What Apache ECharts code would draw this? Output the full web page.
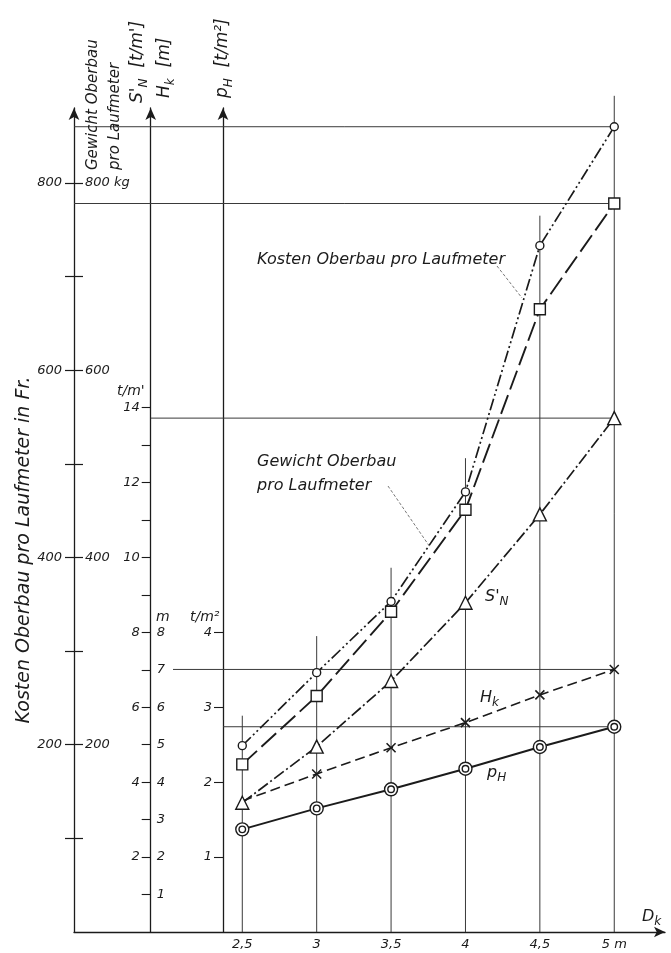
<!DOCTYPE html>
<html><head><meta charset="utf-8">
<script src="https://cdn.jsdelivr.net/npm/echarts@6/dist/echarts.min.js"></script>
<style>html,body{margin:0;padding:0;background:#fff}#c{width:671px;height:953px}</style>
</head><body><div id="c"></div>
<script>
// ---------- data ----------
const dk      = [2.5, 3, 3.5, 4, 4.5, 5];                 // D_k [m]
const kosten  = [199, 277, 353, 470, 733, 860];           // Kosten Oberbau pro Laufmeter [Fr.]
const gewicht = [179, 252, 342, 451, 665, 778];           // Gewicht Oberbau pro Laufmeter [kg]
const sN      = [3.45, 4.95, 6.70, 8.79, 11.15, 13.72];   // S'_N [t/m']
const hK      = [3.5, 4.22, 4.92, 5.59, 6.33, 7.01];      // H_k [m]
const pH      = [1.37, 1.65, 1.905, 2.18, 2.47, 2.74];    // p_H [t/m2]
const vLineTop = [231, 316, 389, 506, 765, 893];          // top of vertical guide lines (Fr scale)
const xTickValues = [2.5, 3, 3.5, 4, 4.5, 5];
const frTicks  = [100, 200, 300, 400, 500, 600, 700, 800];
const frLabels = [200, 400, 600, 800];
const tmTicks  = [1,2,3,4,5,6,7,8,9,10,11,12,13,14];
const tmLabels = [2,4,6,8,10,12,14];
const mLabels  = [1,2,3,4,5,6,7,8];
const t2Ticks  = [1,2,3,4];

// ---------- layout ----------
const X_MIN = 1.369, X_MAX = 5.341;
const G_LEFT = 74, G_RIGHT = 6, G_TOP = 108, G_BOTTOM = 21;
const W = 671;
const pxPerX = (W - G_LEFT - G_RIGHT) / (X_MAX - X_MIN);
const OFF2 = 76.7, OFF3 = 149;
const ax1X = X_MIN, ax2X = X_MIN + OFF2 / pxPerX, ax3X = X_MIN + OFF3 / pxPerX;
const hkStartX = X_MIN + 99 / pxPerX;

const INK = '#1b1b1b', THIN = '#3a3a3a';
const FONT = 'DejaVu Sans';
const lbl = (size) => ({ fontFamily: FONT, fontStyle: 'italic', fontSize: size, color: INK });

const chart = echarts.init(document.getElementById('c'), null, { renderer: 'canvas' });

function guide(points, yIdx) {
  return { type: 'line', data: points, yAxisIndex: yIdx, symbol: 'none', silent: true, clip: false,
    z: 1, lineStyle: { color: THIN, width: 1 }, animation: false };
}
const guides = [];
dk.forEach((x, i) => guides.push(guide([[x, 0], [x, vLineTop[i]]], 0)));
guides.push(guide([[ax1X, kosten[5]], [dk[5], kosten[5]]], 0));
guides.push(guide([[ax1X, gewicht[5]], [dk[5], gewicht[5]]], 0));
guides.push(guide([[ax2X, sN[5]], [dk[5], sN[5]]], 2));
guides.push(guide([[hkStartX, hK[5]], [dk[5], hK[5]]], 2));
guides.push(guide([[ax3X, pH[5]], [dk[5], pH[5]]], 4));

const markStyle = { color: '#fff', borderColor: INK, borderWidth: 1.4 };
function dataSeries(name, vals, yIdx, symbol, size, lineType, width) {
  return { name, type: 'line', yAxisIndex: yIdx, z: 3, animation: false,
    data: dk.map((x, i) => [x, vals[i]]), symbol, symbolSize: size, showSymbol: true,
    itemStyle: markStyle, lineStyle: { color: INK, width, type: lineType } };
}
const xPath = 'path://M0,0L10,10M10,0L0,10';
const dblCircle = 'path://M0,10A10,10 0 1,0 20,10A10,10 0 1,0 0,10ZM5,10A5,5 0 1,0 15,10A5,5 0 1,0 5,10Z';

const hkSeries = dataSeries('H_k', hK, 2, xPath, 9, [10, 5], 1.6);
hkSeries.data[0] = { value: hkSeries.data[0], symbol: 'none' };
hkSeries.itemStyle = { color: INK, borderColor: INK, borderWidth: 1.6 };

const series = guides.concat([
  dataSeries('Kosten', kosten, 0, 'circle', 8, [12, 3, 2, 3, 2, 3], 1.7),
  dataSeries('Gewicht', gewicht, 0, 'rect', 11, [20, 6], 1.9),
  dataSeries('S_N', sN, 2, 'triangle', 13, [12, 3, 2, 3], 1.7),
  hkSeries,
  dataSeries('p_H', pH, 4, dblCircle, 13, 'solid', 2)
]);

const arrowLine = { show: true, symbol: ['none', 'arrow'], symbolSize: [8, 12], lineStyle: { color: INK, width: 1.3 } };
const noLine = { show: false };

const option = {
  backgroundColor: '#fff',
  animation: false,
  grid: { left: G_LEFT, right: G_RIGHT, top: G_TOP, bottom: G_BOTTOM, containLabel: false, outerBoundsMode: 'none' },
  xAxis: {
    type: 'value', min: X_MIN, max: X_MAX,
    axisLine: Object.assign({}, arrowLine, { symbolSize: [8, 11] }),
    axisTick: { show: false }, splitLine: { show: false },
    axisLabel: Object.assign(lbl(13), { customValues: xTickValues, margin: 6,
      formatter: v => v === 5 ? '5 m' : String(v).replace('.', ',') })
  },
  yAxis: [
    { type: 'value', position: 'left', offset: 0, min: 0, max: 880, axisLine: arrowLine,
      axisTick: { show: true, customValues: frTicks, length: 9, lineStyle: { color: INK, width: 1.2 } },
      axisLabel: Object.assign(lbl(13), { customValues: frLabels, margin: 12 }), splitLine: { show: false } },
    { type: 'value', position: 'left', offset: 0, min: 0, max: 880, axisLine: noLine,
      axisTick: { show: true, inside: true, customValues: frTicks, length: 9, lineStyle: { color: INK, width: 1.2 } },
      axisLabel: Object.assign(lbl(13), { inside: true, customValues: frLabels, margin: 11,
        formatter: v => v === 800 ? '800 kg' : String(v) }), splitLine: { show: false } },
    { type: 'value', position: 'left', offset: -OFF2, min: 0, max: 22, axisLine: arrowLine,
      axisTick: { show: true, customValues: tmTicks, length: 9, lineStyle: { color: INK, width: 1.1 } },
      axisLabel: Object.assign(lbl(13), { customValues: tmLabels, margin: 11 }), splitLine: { show: false } },
    { type: 'value', position: 'left', offset: -OFF2, min: 0, max: 22, axisLine: noLine,
      axisTick: { show: false },
      axisLabel: Object.assign(lbl(13), { inside: true, customValues: mLabels, margin: 6 }), splitLine: { show: false } },
    { type: 'value', position: 'left', offset: -OFF3, min: 0, max: 11, axisLine: arrowLine,
      axisTick: { show: true, customValues: t2Ticks, length: 9, lineStyle: { color: INK, width: 1.1 } },
      axisLabel: Object.assign(lbl(13), { customValues: t2Ticks, margin: 11 }), splitLine: { show: false } }
  ],
  series,
  graphic: []
};

function rich(size) {
  return {
    m: { fontFamily: FONT, fontStyle: 'italic', fontSize: size, lineHeight: size + 6, fill: INK },
    s: { fontFamily: FONT, fontStyle: 'italic', fontSize: Math.round(size * 0.72), lineHeight: Math.round(size * 0.75), verticalAlign: 'bottom', fill: INK }
  };
}
function txt(text, x, y, size, opts, align) {
  return Object.assign({ type: 'text', x, y, silent: true, z: 10,
    style: { text, rich: rich(size), fontFamily: FONT, fontStyle: 'italic', fontSize: size, fill: INK,
      align: align || 'left', verticalAlign: 'middle' } }, opts || {});
}
const ROT = Math.PI / 2;
const g = option.graphic;
// axis titles (rotated)
g.push(txt('{m|Kosten Oberbau pro Laufmeter in Fr.}', 24, 550, 19, { rotation: ROT }, 'center'));
g.push(txt('{m|Gewicht Oberbau}', 93, 170, 15, { rotation: ROT }));
g.push(txt('{m|pro Laufmeter}', 115, 170, 15, { rotation: ROT }));
g.push(txt("{m|S'}{s|N}{m|  [t/m']}", 138, 103, 17, { rotation: ROT }));
g.push(txt('{m|H}{s|k}{m|  [m]}', 165, 98, 17, { rotation: ROT }));
g.push(txt('{m|p}{s|H}{m|  [t/m²]}', 223, 98, 17, { rotation: ROT }));
// unit labels at scales
g.push(txt("{m|t/m'}", 117, 391, 14));
g.push(txt('{m|m}', 156, 617, 14));
g.push(txt('{m|t/m²}', 190, 617, 14));
// curve labels
g.push(txt('{m|Kosten Oberbau pro Laufmeter}', 257, 260, 16));
g.push(txt('{m|Gewicht Oberbau}', 257, 462, 16));
g.push(txt('{m|pro Laufmeter}', 257, 486, 16));
g.push(txt("{m|S'}{s|N}", 485, 597, 16));
g.push(txt('{m|H}{s|k}', 480, 698, 16));
g.push(txt('{m|p}{s|H}', 487, 773, 16));
g.push(txt('{m|D}{s|k}', 642, 917, 16));
// leader lines
const leader = (x1, y1, x2, y2) => ({ type: 'line', silent: true, z: 9,
  shape: { x1, y1, x2, y2 }, style: { stroke: '#555', lineWidth: 0.8, lineDash: [3, 2] } });
g.push(leader(497, 266, 522, 298));
g.push(leader(388, 486, 430, 547));

chart.setOption(option);
</script></body></html>
